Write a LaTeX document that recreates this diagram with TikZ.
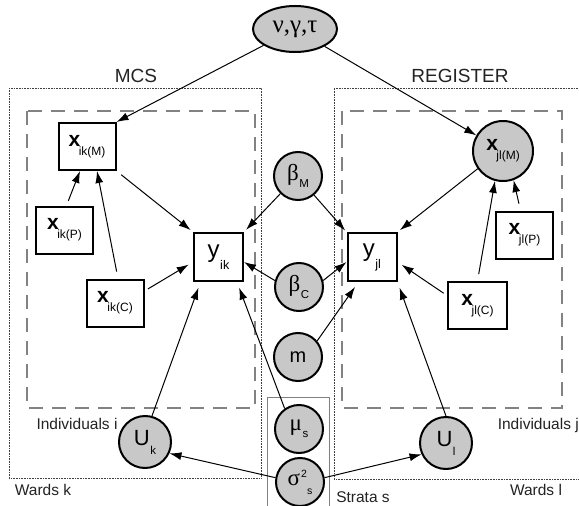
\documentclass[tikz,border=0pt]{standalone}
\usepackage{fontspec}
\setmainfont{Liberation Sans}
\newfontfamily\grk{Liberation Serif}
\usetikzlibrary{arrows.meta,shapes.geometric}
\definecolor{nodegray}{RGB}{200,200,200}
\definecolor{dashgray}{RGB}{130,130,130}
\definecolor{txtgray}{RGB}{35,35,35}
\newcommand{\fs}[1]{\fontsize{#1}{#1}\selectfont}
\newcommand{\bxs}[1]{{\fs{21}\bfseries x}\kern-1.5pt\raisebox{-9pt}{\fs{12}#1}}
\newcommand{\ys}[1]{{\fs{24}y}\kern0.5pt\raisebox{-12pt}{\fs{12.5}#1}}
\newcommand{\gs}[2]{{\grk\fs{23}#1}\kern0.5pt\raisebox{-7pt}{\fs{11.5}#2}}
\newcommand{\us}[1]{{\fs{22}U}\kern0.5pt\raisebox{-9pt}{\fs{11.5}#1}}
\begin{document}
\begin{tikzpicture}[x=1pt,y=-1pt,
  box/.style={draw,line width=2pt,fill=white,minimum width=57pt,minimum height=47pt,inner sep=0pt},
  ybox/.style={box,minimum width=49pt,minimum height=48pt},
  gc/.style={circle,draw,line width=2pt,fill=nodegray,minimum size=48pt,inner sep=0pt},
  arr/.style={-{Latex[length=12pt,width=8pt]},line width=1pt},
  lbl/.style={text=txtgray,inner sep=0pt},
  dotbox/.style={densely dotted,line width=0.6pt,black!75},
  dashbox/.style={dashgray,line width=1.1pt,dash pattern=on 14pt off 9pt},
]
\useasboundingbox (0,0) rectangle (579,506);
\fill[white] (0,0) rectangle (579,506);
% frames
\draw[dotbox] (9,88) rectangle (261,478);
\draw[dotbox] (581,88) -- (334,88) -- (334,479) -- (581,479);
\draw[dashbox] (27,111) rectangle (255,408);
\draw[dashbox] (342,111) rectangle (562,408);
\draw[gray,line width=0.7pt] (267,510) -- (267,397) -- (329,397) -- (329,510);
% labels
\node[lbl,font=\fs{19}] (mcs) at (136,76) {MCS};
\node[lbl,font=\fs{19}] (reg) at (460,76) {REGISTER};
\node[lbl,font=\fs{15.5}] (indi) at (77,424) {Individuals i};
\node[lbl,font=\fs{15.5},anchor=east] (indj) at (579,425) {Individuals j};
\node[lbl,font=\fs{15.5}] (wk) at (43,490) {Wards k};
\node[lbl,font=\fs{15.5}] (wl) at (536,490) {Wards l};
\node[lbl,font=\fs{15.5}] (st) at (363,497) {Strata s};
% nodes
\node[ellipse,draw,line width=2pt,fill=nodegray,minimum width=84pt,minimum height=46pt,inner sep=0pt] (hyp) at (295,29) {\grk\fs{25}ν,γ,τ};
\node[box] (xikM) at (87,146.5) {\bxs{ik(M)}};
\node[box] (xikP) at (64.5,230) {\bxs{ik(P)}};
\node[box] (xikC) at (115,303) {\bxs{ik(C)}};
\node[ybox] (yik) at (218.5,257) {\ys{ik}};
\node[ybox] (yjl) at (372,257) {\ys{jl}};
\node[gc,minimum size=60pt] (xjlM) at (503,151) {\bxs{jl(M)}};
\node[box] (xjlP) at (524.5,235) {\bxs{jl(P)}};
\node[box,minimum width=59pt] (xjlC) at (477.5,305.5) {\bxs{jl(C)}};
\node[gc] (bM) at (298,176) {\gs{β}{M}};
\node[gc] (bC) at (299,287) {\gs{β}{C}};
\node[gc] (m) at (298,357) {\fs{20}m};
\node[gc] (mu) at (299,429) {\gs{μ}{s}};
\node[gc] (sig) at (300,482) {{\grk\fs{23}σ}\kern1pt\raisebox{-9pt}{\fs{10.5}\rlap{\raisebox{17pt}{2}}\kern6pt s}};
\node[gc,minimum size=52pt] (Uk) at (145,442) {\us{k}};
\node[gc,minimum size=52pt] (Ul) at (446,443) {\us{l}};
% connectors
\draw[arr] (hyp) -- (xikM.north east);
\draw[arr] (hyp) -- (xjlM);
\draw[arr,shorten <=5pt] ([xshift=2pt]xikP.north) -- ([xshift=-7pt]xikM.south);
\draw[arr,shorten <=7pt] ([xshift=3pt]xikC.north) -- ([xshift=10pt]xikM.south);
\draw[arr,shorten <=6pt,shorten >=3pt] (xikM.south east) -- (yik.north west);
\draw[arr,shorten <=4pt,shorten >=5pt] ([yshift=12pt]xikC.east) -- ([yshift=-5pt]yik.west);
\draw[arr,shorten >=6pt] (Uk.75) -- ([xshift=-18pt]yik.south);
\draw[arr,shorten >=6pt] (mu.125) -- ([xshift=-7pt]yik.south east);
\draw[arr,shorten >=3pt] (bM.225) -- (yik.north east);
\draw[arr] (bC.165) -- ([yshift=-5pt]yik.east);
\draw[arr,shorten >=2pt] (bM.-50) -- (yjl.north west);
\draw[arr] (bC.15) -- ([yshift=-5pt]yjl.west);
\draw[arr,shorten >=6pt] (m.40) -- ([xshift=12pt]yjl.south west);
\draw[arr,shorten >=3pt] (xjlM.215) -- (yjl.north east);
\draw[arr,shorten <=4pt,shorten >=5pt] ([yshift=10pt]xjlC.west) -- ([yshift=-5pt]yjl.east);
\draw[arr,shorten >=6pt] (Ul.north) -- (yjl.south east);
\draw[arr,shorten <=7pt] ([xshift=-4pt]xjlP.north) -- (xjlM.-70);
\draw[arr,shorten <=7pt] (xjlC.north) -- (xjlM.-105);
\draw[arr] (sig.170) -- (Uk.-25);
\draw[arr] (sig.10) -- (Ul.205);
\end{tikzpicture}
\end{document}
